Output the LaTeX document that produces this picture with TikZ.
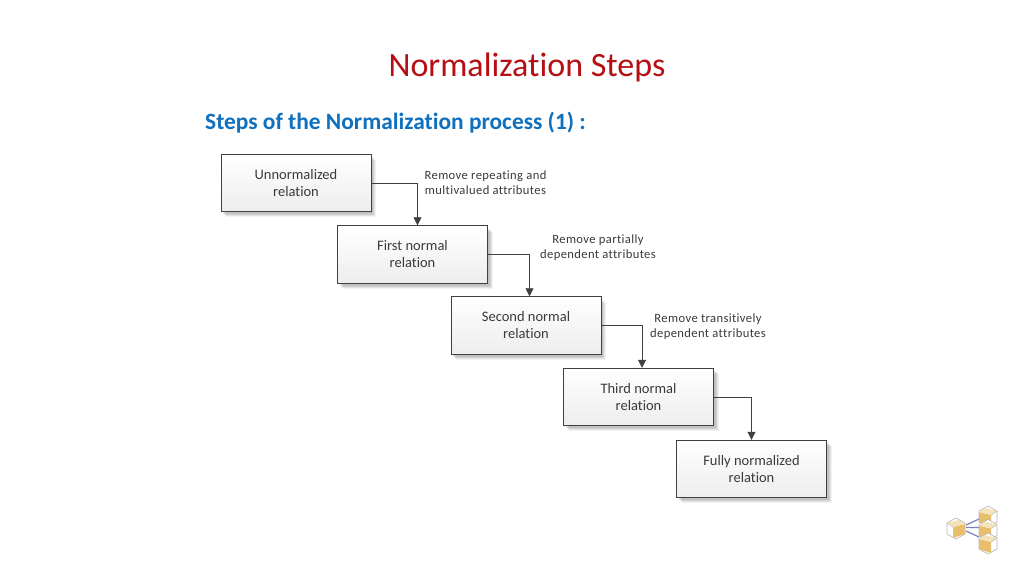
\documentclass[tikz,border=0pt]{standalone}
\usepackage{fontspec}
\setmainfont{Carlito}[Ligatures=NoCommon,Contextuals=NoAlternate]
\usetikzlibrary{arrows.meta,calc}
\definecolor{titlered}{HTML}{B50F14}
\definecolor{subblue}{HTML}{0F70BE}
\definecolor{inktext}{HTML}{3A3A3A}
\definecolor{boxedge}{HTML}{404040}
\definecolor{cubeface}{HTML}{E6BE6C}
\definecolor{cubetop}{HTML}{F4E3B8}
\definecolor{cubeedge}{HTML}{B4B4B4}
\definecolor{linkpurple}{HTML}{7F7DBA}
\tikzset{
  x=1pt,y=-1pt,
  relbox/.style={draw=boxedge,line width=0.9pt,top color=white,bottom color=black!7,
    minimum width=150pt,minimum height=57.5pt,inner sep=0pt,align=center,
    text=inktext,font=\fontsize{14.5}{17}\selectfont},
  hint/.style={text=inktext,align=center,inner sep=0pt,
    font=\fontsize{12.6}{15}\selectfont\addfontfeatures{LetterSpace=3}},
  conn/.style={draw=boxedge,line width=0.8pt,-{Triangle[length=8pt,width=8pt]}},
  softshade/.pic={
    \foreach \o/\a in {5/0.05,4/0.06,3/0.07,2/0.08}{
      \fill[black,opacity=\a] (-75+\o,-28+\o) rectangle (75+\o,29+\o);
    }
  },
  cube/.pic={
    \fill[white,draw=cubeedge,line width=0.6pt] (-9,-5)--(0,-10)--(9,-5)--(9,6)--(0,11)--(-9,6)--cycle;
    \fill[cubeface] (-9,-4)--(3,-1)--(3,10)--(-9,6)--cycle;
    \fill[cubetop] (-9,-4)--(-3,-8)--(9,-5)--(3,-1)--cycle;
    \draw[cubeedge,line width=0.4pt] (3,-1)--(9,-5);
  }
}
\begin{document}
\begin{tikzpicture}
\useasboundingbox (0,0) rectangle (1024,576);
\fill[white] (0,0) rectangle (1024,576);
\node[text=titlered,font=\fontsize{34}{38}\selectfont,inner sep=0pt] (title) at (527,67) {Normalization Steps};
\node[text=subblue,font=\bfseries\fontsize{23.4}{26}\selectfont,anchor=west,inner sep=0pt] (sub) at (205,122.5) {Steps of the Normalization process (1) :};

\pic at (296,183) {softshade};
\pic at (412.5,254.5) {softshade};
\pic at (526,325.5) {softshade};
\pic at (638.5,397) {softshade};
\pic at (751.5,469) {softshade};

\node[relbox] (a) at (296,183) {Unnormalized\\relation};
\node[relbox] (b) at (412.5,254.5) {First normal\\relation};
\node[relbox] (c) at (526,325.5) {Second normal\\relation};
\node[relbox] (d) at (638.5,397) {Third normal\\relation};
\node[relbox] (e) at (751.5,469) {Fully normalized\\relation};

\draw[conn] (a.east) -| ($(b.north)+(5,0)$);
\draw[conn] (b.east) -| ($(c.north)+(3.5,0)$);
\draw[conn] (c.east) -| ($(d.north)+(3.5,0)$);
\draw[conn] (d.east) -| (e.north);

\node[hint] (h1) at (485.5,182.5) {Remove repeating and\\multivalued attributes};
\node[hint] (h2) at (598,248) {Remove partially\\dependent attributes};
\node[hint] (h3) at (708,326.5) {Remove transitively\\dependent attributes};

\draw[linkpurple,line width=1.2pt] (966,525)--(979,519) (966,527.5)--(979,527.5) (966,531)--(979,537);
\pic[xscale=-1] at (956,528) {cube};
\pic at (988,516) {cube};
\pic at (988,529.5) {cube};
\pic at (988,543) {cube};
\end{tikzpicture}
\end{document}
